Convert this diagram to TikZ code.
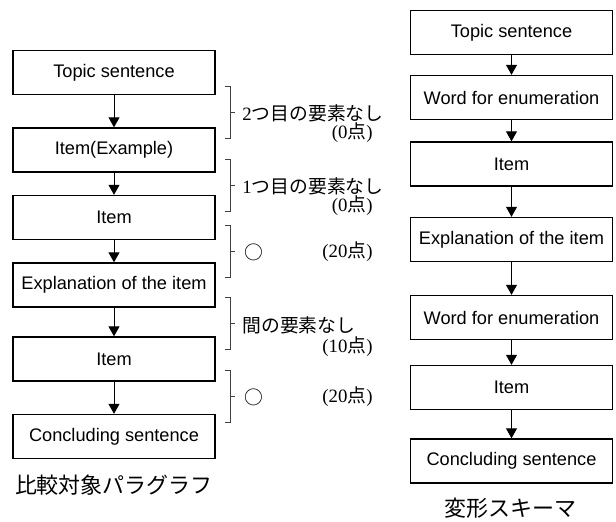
\documentclass[tikz,border=0pt]{standalone}
\usepackage{fontspec}
\setmainfont{Liberation Serif}
\setsansfont{Liberation Sans}
\newfontfamily\cjk{Noto Sans CJK JP}
\usetikzlibrary{arrows.meta}

\begin{document}
\begin{tikzpicture}[
    x=0.5pt, y=-0.5pt,
    box/.style={draw, line width=0.7pt, minimum width=101pt, minimum height=22pt,
                inner sep=0pt, font=\sffamily\fontsize{9.1}{11}\selectfont},
    arrow/.style={-{Triangle[width=5.5pt,length=5pt]}, line width=0.5pt},
    bracket/.style={draw=black!75, line width=0.5pt},
    note/.style={inner sep=0pt, font=\fontsize{9.4}{11}\selectfont},
    caption/.style={inner sep=0pt, font=\cjk\fontsize{11}{13}\selectfont}
]
\useasboundingbox (0,0) rectangle (616,521);

% compared paragraph
\node[box] (l1) at (114,72.5) {Topic sentence};
\node[box] (l2) at (114,150) {Item(Example)};
\node[box] (l3) at (114,217.5) {Item};
\node[box] (l4) at (114,285) {Explanation of the item};
\node[box] (l5) at (114,359) {Item};
\node[box] (l6) at (114,436.5) {Concluding sentence};
\node[caption] (lcap) at (114,485) {比較対象パラグラフ};

\draw[arrow] (l1) -- (l2);
\draw[arrow] (l2) -- (l3);
\draw[arrow] (l3) -- (l4);
\draw[arrow] (l4) -- (l5);
\draw[arrow] (l5) -- (l6);

% transformed schema
\node[box] (r1) at (511.5,32.5) {Topic sentence};
\node[box] (r2) at (511.5,97.5) {Word for enumeration};
\node[box] (r3) at (511.5,164) {Item};
\node[box] (r4) at (511.5,239.5) {Explanation of the item};
\node[box] (r5) at (511.5,317.5) {Word for enumeration};
\node[box] (r6) at (511.5,387.5) {Item};
\node[box] (r7) at (511.5,461) {Concluding sentence};
\node[caption] (rcap) at (510,508) {変形スキーマ};

\draw[arrow] (r1) -- (r2);
\draw[arrow] (r2) -- (r3);
\draw[arrow] (r3) -- (r4);
\draw[arrow] (r4) -- (r5);
\draw[arrow] (r5) -- (r6);
\draw[arrow] (r6) -- (r7);

% brackets and scores
\foreach \y in {112,185,251,323,396}
  \draw[bracket] (225,\y-26) -- ++(5,0) -- ++(0,52) -- ++(-5,0)
                 (230,\y) -- ++(5,0);

\node[note, anchor=west] (n1) at (242,113) {2{\cjk つ目の要素なし}};
\node[note, anchor=east] (s1) at (373,133) {(0{\cjk 点})};
\node[note, anchor=west] (n2) at (242,186) {1{\cjk つ目の要素なし}};
\node[note, anchor=east] (s2) at (373,206) {(0{\cjk 点})};
\node[note, anchor=west] (n3) at (244,252) {{\cjk ○}};
\node[note, anchor=east] (s3) at (373,252) {(20{\cjk 点})};
\node[note, anchor=west] (n4) at (242,325) {{\cjk 間の要素なし}};
\node[note, anchor=east] (s4) at (373,347) {(10{\cjk 点})};
\node[note, anchor=west] (n5) at (244,397) {{\cjk ○}};
\node[note, anchor=east] (s5) at (373,397) {(20{\cjk 点})};
\end{tikzpicture}
\end{document}
